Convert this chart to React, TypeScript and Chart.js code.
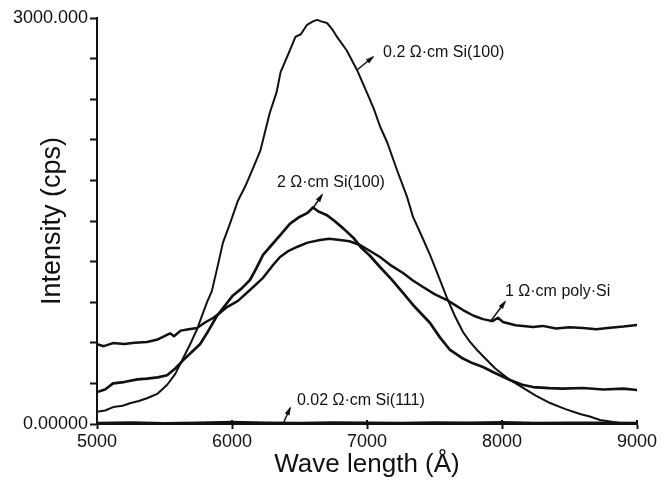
import React, { useEffect, useRef } from "react";
import { Chart, registerables } from "chart.js";

Chart.register(...registerables);

// ---- Data ----
const xTicks = [5000, 6000, 7000, 8000, 9000];
const yTickLabels: Record<number, string> = { 0: "0.00000", 3000: "3000.000" };

// 0.2 Ω·cm Si(100)
const lambda02 = [5000, 5060, 5120, 5190, 5250, 5310, 5370, 5450, 5520, 5580, 5640, 5700, 5741, 5763, 5815, 5850, 5890, 5933, 5985, 6044, 6100, 6160, 6210, 6250, 6280, 6330, 6360, 6420, 6470, 6510, 6556, 6600, 6630, 6660, 6704, 6740, 6778, 6850, 6926, 7000, 7050, 7096, 7150, 7222, 7296, 7341, 7400, 7467, 7530, 7593, 7650, 7711, 7760, 7815, 7880, 7950, 8059, 8150, 8250, 8356, 8470, 8578, 8650, 8726, 8800, 8874, 9000];
const intensity02 = [90, 100, 125, 135, 155, 170, 190, 225, 290, 370, 490, 610, 700, 760, 900, 980, 1150, 1340, 1480, 1650, 1760, 1900, 2020, 2180, 2300, 2450, 2600, 2740, 2860, 2880, 2950, 2975, 2986, 2975, 2963, 2920, 2860, 2760, 2616, 2446, 2330, 2200, 2080, 1877, 1680, 1530, 1400, 1250, 1090, 930, 800, 680, 610, 547, 480, 410, 325, 270, 210, 155, 110, 74, 55, 30, 18, 7, 0];

// 2 Ω·cm Si(100)
const lambda2 = [5000, 5060, 5119, 5200, 5300, 5370, 5450, 5519, 5580, 5637, 5700, 5763, 5815, 5889, 5963, 6007, 6070, 6133, 6180, 6230, 6300, 6370, 6430, 6500, 6560, 6600, 6640, 6700, 6760, 6830, 6900, 6960, 7020, 7096, 7180, 7267, 7350, 7467, 7540, 7615, 7700, 7780, 7859, 7940, 8059, 8150, 8230, 8350, 8450, 8600, 8750, 8900, 9000];
const intensity2 = [236, 255, 300, 310, 330, 335, 345, 360, 410, 470, 530, 590, 672, 800, 894, 950, 1000, 1064, 1150, 1250, 1330, 1410, 1480, 1530, 1560, 1600, 1570, 1545, 1500, 1440, 1375, 1300, 1245, 1160, 1070, 968, 870, 746, 640, 547, 490, 450, 421, 380, 325, 290, 273, 265, 262, 266, 255, 262, 251];

// 1 Ω·cm poly·Si
const lambdaPoly = [5000, 5050, 5119, 5200, 5280, 5370, 5450, 5500, 5541, 5570, 5620, 5680, 5741, 5800, 5859, 5910, 5963, 6044, 6133, 6230, 6300, 6356, 6420, 6481, 6560, 6652, 6720, 6800, 6870, 6948, 7020, 7096, 7180, 7267, 7340, 7415, 7500, 7593, 7650, 7711, 7790, 7859, 7930, 7970, 8007, 8100, 8230, 8300, 8400, 8500, 8600, 8700, 8800, 8900, 9000];
const intensityPoly = [590, 575, 598, 592, 600, 606, 625, 650, 670, 648, 690, 700, 710, 750, 783, 820, 864, 910, 990, 1080, 1170, 1234, 1280, 1308, 1340, 1360, 1368, 1360, 1350, 1323, 1280, 1234, 1170, 1116, 1060, 1012, 960, 916, 880, 842, 800, 775, 760, 785, 754, 730, 717, 725, 705, 715, 709, 700, 712, 720, 731];

// 0.02 Ω·cm Si(111)
const lambda002 = [5000, 5250, 5500, 5750, 6000, 6250, 6500, 6750, 7000, 7250, 7500, 7750, 8000, 8250, 8500, 8750, 9000];
const intensity002 = [8, 12, 6, 10, 14, 9, 7, 12, 10, 8, 11, 9, 13, 7, 10, 9, 8];

// Curve labels (anchored in data units)
const curveLabels = [
  { text: "0.2 Ω·cm Si(100)", tx: 7119, ty: 2742, align: "left", from: [6926, 2616], to: [7044, 2712] },
  { text: "2 Ω·cm Si(100)", tx: 6733, ty: 1781, align: "center", from: [6600, 1596], to: [6667, 1692] },
  { text: "1 Ω·cm poly·Si", tx: 8022, ty: 975, align: "left", from: [7911, 754], to: [8022, 902] },
  { text: "0.02 Ω·cm Si(111)", tx: 6481, ty: 170, align: "left", from: [6378, 0], to: [6430, 118] },
];

const INK = "#111";
const FONT = "'Liberation Sans', Arial, Helvetica, sans-serif";

function zip(xs: number[], ys: number[]) {
  return xs.map((x, i) => ({ x, y: ys[i] }));
}

const annotationPlugin = {
  id: "curveLabels",
  afterDraw(chart: any) {
    const { ctx, scales, chartArea } = chart;
    const xs = scales.x;
    const ys = scales.y;
    ctx.save();
    // inner half of x tick marks
    ctx.strokeStyle = INK;
    ctx.lineWidth = 2;
    xTicks.forEach((v) => {
      const px = xs.getPixelForValue(v);
      ctx.beginPath();
      ctx.moveTo(px, chartArea.bottom);
      ctx.lineTo(px, chartArea.bottom - 4);
      ctx.stroke();
    });
    // labels with arrows
    ctx.font = `16px ${FONT}`;
    ctx.fillStyle = INK;
    ctx.textBaseline = "middle";
    curveLabels.forEach((l) => {
      const x0 = xs.getPixelForValue(l.from[0]);
      const y0 = ys.getPixelForValue(l.from[1]);
      const x1 = xs.getPixelForValue(l.to[0]);
      const y1 = ys.getPixelForValue(l.to[1]);
      ctx.lineWidth = 1.5;
      ctx.beginPath();
      ctx.moveTo(x0, y0);
      ctx.lineTo(x1, y1);
      ctx.stroke();
      const ang = Math.atan2(y1 - y0, x1 - x0);
      const len = 7;
      const w = 2.6;
      ctx.beginPath();
      ctx.moveTo(x1 + Math.cos(ang) * 2, y1 + Math.sin(ang) * 2);
      ctx.lineTo(x1 - Math.cos(ang) * len + Math.sin(ang) * w, y1 - Math.sin(ang) * len - Math.cos(ang) * w);
      ctx.lineTo(x1 - Math.cos(ang) * len - Math.sin(ang) * w, y1 - Math.sin(ang) * len + Math.cos(ang) * w);
      ctx.closePath();
      ctx.fill();
      ctx.textAlign = l.align as CanvasTextAlign;
      ctx.fillText(l.text, xs.getPixelForValue(l.tx), ys.getPixelForValue(l.ty));
    });
    ctx.restore();
  },
};

export default function App() {
  const ref = useRef<HTMLCanvasElement>(null);
  useEffect(() => {
    const lineDs = (label: string, xs: number[], ys: number[], width: number) => ({
      label,
      data: zip(xs, ys),
      borderColor: INK,
      backgroundColor: INK,
      borderWidth: width,
      pointRadius: 0,
      tension: 0,
      fill: false,
      borderJoinStyle: "round" as const,
      borderCapStyle: "round" as const,
    });
    const chart = new Chart(ref.current!, {
      type: "line",
      data: {
        datasets: [
          lineDs("0.2 Ω·cm Si(100)", lambda02, intensity02, 2),
          lineDs("2 Ω·cm Si(100)", lambda2, intensity2, 2.7),
          lineDs("1 Ω·cm poly·Si", lambdaPoly, intensityPoly, 2.5),
          lineDs("0.02 Ω·cm Si(111)", lambda002, intensity002, 2.5),
        ],
      },
      options: {
        responsive: false,
        animation: false,
        devicePixelRatio: 1,
        layout: { padding: { top: 18, right: 24, bottom: 0, left: 0 } },
        plugins: { legend: { display: false }, tooltip: { enabled: false } },
        scales: {
          x: {
            type: "linear",
            min: 5000,
            max: 9000,
            afterFit: (s: any) => { s.height = 57; },
            afterBuildTicks: (s: any) => { s.ticks = xTicks.map((v) => ({ value: v })); },
            ticks: {
              color: INK,
              font: { family: FONT, size: 18 },
              padding: 2,
              maxRotation: 0,
              callback: (v: any) => String(v),
            },
            grid: { drawOnChartArea: false, tickLength: 5, tickWidth: 2, tickColor: INK },
            border: { display: true, color: INK, width: 2 },
            title: { display: true, text: "Wave length (Å)", color: INK, font: { family: FONT, size: 26 }, padding: { top: 0, bottom: 1 } },
          },
          y: {
            type: "linear",
            min: 0,
            max: 3000,
            afterFit: (s: any) => { s.width = 97; },
            ticks: {
              stepSize: 300,
              autoSkip: false,
              color: INK,
              font: { family: FONT, size: 18 },
              padding: 2,
              callback: (v: any) => yTickLabels[v as number] ?? "",
            },
            grid: { drawOnChartArea: false, tickLength: 7, tickWidth: 2, tickColor: INK },
            border: { display: true, color: INK, width: 2 },
            title: { display: true, text: "Intensity (cps)", color: INK, font: { family: FONT, size: 27 }, padding: { top: 36, bottom: 0 } },
          },
        },
      },
      plugins: [annotationPlugin],
    });
    return () => chart.destroy();
  }, []);
  return (
    <div style={{ position: "absolute", left: 0, top: 0, width: 661, height: 481, background: "#fff" }}>
      <canvas ref={ref} width={661} height={481} style={{ display: "block" }} />
    </div>
  );
}
